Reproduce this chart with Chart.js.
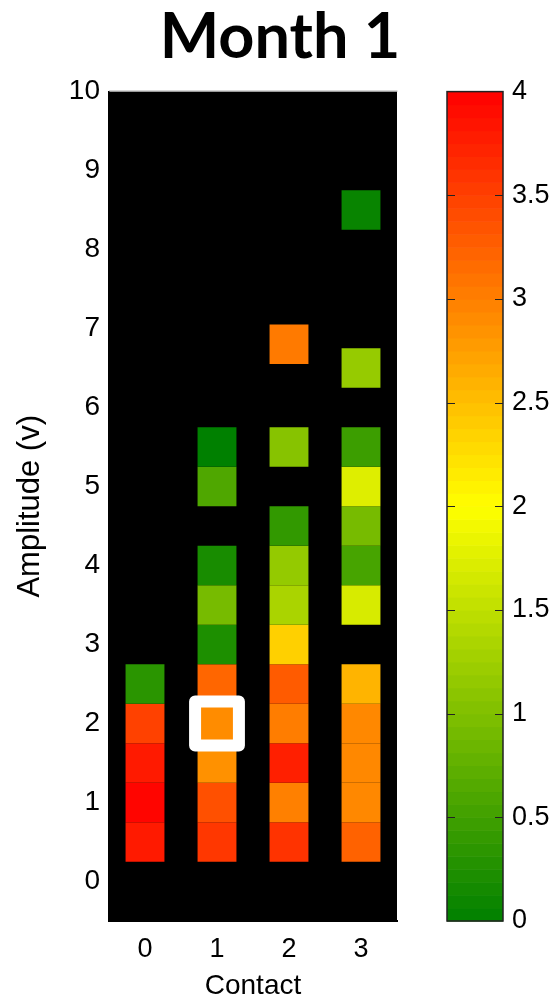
<!DOCTYPE html>
<html>
<head>
<meta charset="utf-8">
<script src="https://cdn.jsdelivr.net/npm/chart.js@4/dist/chart.umd.min.js"></script>
<style>
  html, body { margin: 0; padding: 0; background: #fff; }
  #wrap { position: relative; width: 560px; height: 1003px; }
</style>
</head>
<body>
<div id="wrap"><canvas id="heat" width="560" height="1003"></canvas></div>
<script>
const contacts = [0, 1, 2, 3];
const amplitudeTicks = [0, 1, 2, 3, 4, 5, 6, 7, 8, 9, 10];
const scoreTicks = [0, 0.5, 1, 1.5, 2, 2.5, 3, 3.5, 4];

// amplitude (v) of each tested setting and its score, per contact
const amp0 = [0.5, 1, 1.5, 2, 2.5];
const score0 = [3.8, 3.96, 3.8, 3.49, 0.33];
const amp1 = [0.5, 1, 1.5, 2, 2.5, 3, 3.5, 4, 5, 5.5];
const score1 = [3.57, 3.37, 2.86, 2.9, 3.2, 0.23, 0.93, 0.19, 0.62, 0.0];
const amp2 = [0.5, 1, 1.5, 2, 2.5, 3, 3.5, 4, 4.5, 5.5, 6.8];
const score2 = [3.6, 3.0, 3.76, 3.02, 3.29, 2.37, 1.33, 1.16, 0.39, 1.06, 3.04];
const amp3 = [0.5, 1, 1.5, 2, 2.5, 3.5, 4, 4.5, 5, 5.5, 6.5, 8.5];
const score3 = [3.23, 2.93, 2.93, 2.93, 2.59, 1.69, 0.56, 0.93, 1.74, 0.47, 1.18, 0.06];

// chosen setting
const chosenContact = 1;
const chosenAmp = 2;

const amps = [amp0, amp1, amp2, amp3];
const scores = [score0, score1, score2, score3];
const STEP_HALF = 0.25;   // half of the amplitude step
const SCORE_MAX = 4;

// green -> yellow -> red
function colorFor(v) {
  v = Math.max(0, Math.min(SCORE_MAX, v));
  let r, g;
  if (v <= 2) { r = 255 * v / 2; g = 128 + 127 * v / 2; }
  else { r = 255; g = 255 * (1 - (v - 2) / 2); }
  return `rgb(${Math.round(r)},${Math.round(g)},0)`;
}

const cells = contacts.flatMap((c, i) =>
  amps[i].map((a, j) => ({ x: c, y: [a - STEP_HALF, a + STEP_HALF], score: scores[i][j] })));

const ci = contacts.indexOf(chosenContact);
const chosenScore = scores[ci][amps[ci].indexOf(chosenAmp)];

const FONT = "'Liberation Sans', Arial, sans-serif";

// keep tick labels from pushing the plot area around
function noPad(s) {
  s.paddingTop = 0; s.paddingBottom = 0; s.paddingLeft = 0; s.paddingRight = 0;
}

const panel = {
  id: 'panel',
  beforeDraw(chart) {
    const { ctx, chartArea: a } = chart;
    ctx.save();
    ctx.fillStyle = '#000';
    ctx.fillRect(a.left, a.top, a.right - a.left, a.bottom - a.top);
    ctx.restore();
  },
  beforeDatasetDraw(chart, args) {
    if (args.index === 0) { chart.ctx.save(); chart.ctx.lineJoin = 'round'; }
  },
  afterDatasetDraw(chart, args) {
    if (args.index === 0) chart.ctx.restore();
  },
  afterDraw(chart) {
    const { ctx, chartArea: a } = chart;
    const cb = chart.scales.cb;
    ctx.save();
    ctx.strokeStyle = '#9a9a9a';
    ctx.lineWidth = 1;
    ctx.beginPath();
    ctx.moveTo(a.left, a.top - 0.5);
    ctx.lineTo(a.right + 0.5, a.top - 0.5);
    ctx.stroke();

    // colour bar
    const left = a.right + 50, w = 56;
    const top = cb.getPixelForValue(SCORE_MAX), bottom = cb.getPixelForValue(0);
    const bands = 64;
    for (let k = 0; k < bands; k++) {
      const v0 = SCORE_MAX * k / bands, v1 = SCORE_MAX * (k + 1) / bands;
      const y0 = cb.getPixelForValue(v0), y1 = cb.getPixelForValue(v1);
      ctx.fillStyle = colorFor((v0 + v1) / 2);
      ctx.fillRect(left, y1, w, y0 - y1 + 0.6);
    }
    ctx.strokeStyle = '#222';
    ctx.lineWidth = 1.5;
    ctx.strokeRect(left, top, w, bottom - top);
    ctx.lineWidth = 1;
    cb.ticks.forEach(t => {
      if (t.value === 0 || t.value === SCORE_MAX) return;
      const y = Math.round(cb.getPixelForValue(t.value)) + 0.5;
      ctx.beginPath();
      ctx.moveTo(left, y); ctx.lineTo(left + 8, y);
      ctx.moveTo(left + w - 8, y); ctx.lineTo(left + w, y);
      ctx.stroke();
    });
    ctx.restore();
  }
};

new Chart(document.getElementById('heat'), {
  type: 'bar',
  data: {
    datasets: [{
      type: 'scatter',
      data: [{ x: chosenContact, y: chosenAmp }],
      pointStyle: 'rect',
      radius: 31,
      hoverRadius: 31,
      borderWidth: 12,
      hoverBorderWidth: 12,
      borderColor: '#fff',
      backgroundColor: colorFor(chosenScore),
      yAxisID: 'y'
    }, {
      data: cells,
      backgroundColor: ctx => ctx.raw ? colorFor(ctx.raw.score) : '#000',
      borderWidth: 0,
      barPercentage: 0.54,
      categoryPercentage: 1,
      yAxisID: 'y'
    }]
  },
  options: {
    responsive: false,
    animation: false,
    devicePixelRatio: 1,
    layout: { padding: 0 },
    scales: {
      x: {
        type: 'linear',
        min: -0.5,
        max: 3.5,
        offset: false,
        afterBuildTicks: s => { s.ticks = contacts.map(v => ({ value: v })); },
        afterFit: s => { s.height = 82; noPad(s); },
        grid: { display: false, drawTicks: false },
        border: { display: true, color: '#000', width: 2 },
        ticks: { color: '#000', padding: 12, font: { family: FONT, size: 27 } },
        title: { display: true, text: 'Contact', color: '#000', padding: { top: 0, bottom: 0 }, font: { family: FONT, size: 28 } }
      },
      y: {
        type: 'linear',
        min: -0.5,
        max: 10,
        afterBuildTicks: s => { s.ticks = amplitudeTicks.map(v => ({ value: v })); },
        afterFit: s => { s.width = 109; noPad(s); },
        grid: { display: false, drawTicks: false },
        border: { display: true, color: '#000', width: 2 },
        ticks: { color: '#000', padding: 9, font: { family: FONT, size: 28 } },
        title: { display: true, text: 'Amplitude (v)', color: '#000', padding: { top: 12, bottom: 0 }, font: { family: FONT, size: 31 } }
      },
      cb: {
        type: 'linear',
        position: 'right',
        min: 0,
        max: SCORE_MAX,
        afterBuildTicks: s => { s.ticks = scoreTicks.map(v => ({ value: v })); },
        afterFit: s => { s.width = 163; noPad(s); },
        grid: { display: false, drawTicks: false },
        border: { display: false },
        ticks: { color: '#000', padding: 115, font: { family: FONT, size: 27 }, callback: v => String(v) }
      }
    },
    plugins: {
      legend: { display: false },
      tooltip: { enabled: false },
      title: {
        display: true,
        text: 'Month 1',
        color: '#000',
        padding: { top: 0, bottom: 16 },
        font: { family: 'Lato, sans-serif', size: 63, weight: 'bold' }
      }
    }
  },
  plugins: [panel]
});
</script>
</body>
</html>
